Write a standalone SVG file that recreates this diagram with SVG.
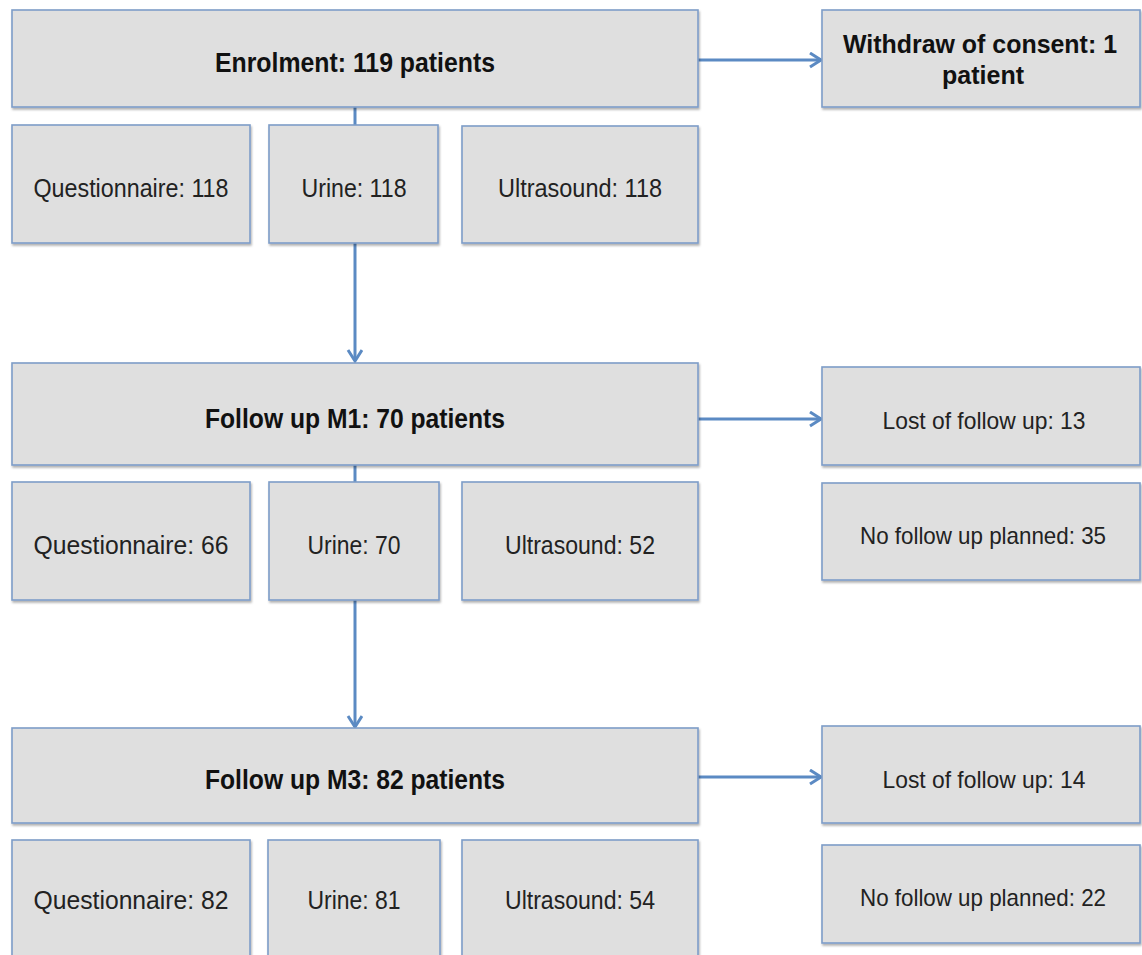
<svg xmlns="http://www.w3.org/2000/svg" width="1142" height="955" viewBox="0 0 1142 955">
<style>
.box{fill:#dfdfdf;stroke:#7d9dc8;stroke-width:1.6;filter:url(#sh)}
.b{font-family:"Liberation Sans",Arial,sans-serif;font-weight:bold;font-size:28px;fill:#111;text-anchor:middle}
.r{font-family:"Liberation Sans",Arial,sans-serif;font-size:26px;fill:#222;text-anchor:middle}
.rs{font-size:24px}
.bs{font-size:26px}
.c{stroke:#5b8ac3;stroke-width:3;fill:none}
</style>
<defs>
<filter id="sh" x="-5%" y="-5%" width="110%" height="120%">
<feDropShadow dx="1" dy="2" stdDeviation="1.2" flood-color="#000" flood-opacity="0.3"/>
</filter>
<marker id="ah" markerUnits="userSpaceOnUse" markerWidth="18" markerHeight="18" refX="12" refY="8" orient="auto">
<path d="M1,1 L12,8 L1,15" fill="none" stroke="#5b8ac3" stroke-width="3"/>
</marker>
</defs>
<g id="connectors">
<line class="c" x1="355" y1="107" x2="355" y2="125"/>
<line class="c" x1="355" y1="243" x2="355" y2="361" marker-end="url(#ah)"/>
<line class="c" x1="355" y1="465" x2="355" y2="482"/>
<line class="c" x1="355" y1="600" x2="355" y2="727" marker-end="url(#ah)"/>
<line class="c" x1="698" y1="60" x2="821" y2="60" marker-end="url(#ah)"/>
<line class="c" x1="698" y1="419" x2="821" y2="419" marker-end="url(#ah)"/>
<line class="c" x1="698" y1="777" x2="821" y2="777" marker-end="url(#ah)"/>
</g>
<g id="enrolment"><rect class="box" x="12" y="10" width="686" height="97"/><text class="b" x="355" y="72" textLength="280" lengthAdjust="spacingAndGlyphs">Enrolment: 119 patients</text></g>
<g id="withdraw"><rect class="box" x="822" y="10" width="318" height="97"/><text class="b bs" x="980" y="53" textLength="274" lengthAdjust="spacingAndGlyphs">Withdraw of consent: 1</text><text class="b bs" x="983" y="84" textLength="82" lengthAdjust="spacingAndGlyphs">patient</text></g>
<g id="q0"><rect class="box" x="12" y="125" width="238" height="118"/><text class="r" x="131" y="197" textLength="195" lengthAdjust="spacingAndGlyphs">Questionnaire: 118</text></g>
<g id="u0"><rect class="box" x="269" y="125" width="169" height="118"/><text class="r" x="354" y="197" textLength="105" lengthAdjust="spacingAndGlyphs">Urine: 118</text></g>
<g id="us0"><rect class="box" x="462" y="126" width="236" height="117"/><text class="r" x="580" y="197" textLength="164" lengthAdjust="spacingAndGlyphs">Ultrasound: 118</text></g>
<g id="m1"><rect class="box" x="12" y="363" width="686" height="102"/><text class="b" x="355" y="428" textLength="300" lengthAdjust="spacingAndGlyphs">Follow up M1: 70 patients</text></g>
<g id="lost1"><rect class="box" x="822" y="367" width="318" height="98"/><text class="r rs" x="984" y="429" textLength="203" lengthAdjust="spacingAndGlyphs">Lost of follow up: 13</text></g>
<g id="nofu1"><rect class="box" x="822" y="483" width="318" height="97"/><text class="r rs" x="983" y="544" textLength="246" lengthAdjust="spacingAndGlyphs">No follow up planned: 35</text></g>
<g id="q1"><rect class="box" x="12" y="482" width="238" height="118"/><text class="r" x="131" y="554" textLength="195" lengthAdjust="spacingAndGlyphs">Questionnaire: 66</text></g>
<g id="u1"><rect class="box" x="269" y="482" width="170" height="118"/><text class="r" x="354" y="554" textLength="93" lengthAdjust="spacingAndGlyphs">Urine: 70</text></g>
<g id="us1"><rect class="box" x="462" y="482" width="236" height="118"/><text class="r" x="580" y="554" textLength="150" lengthAdjust="spacingAndGlyphs">Ultrasound: 52</text></g>
<g id="m3"><rect class="box" x="12" y="728" width="686" height="95"/><text class="b" x="355" y="789" textLength="300" lengthAdjust="spacingAndGlyphs">Follow up M3: 82 patients</text></g>
<g id="lost3"><rect class="box" x="822" y="726" width="318" height="97"/><text class="r rs" x="984" y="788" textLength="203" lengthAdjust="spacingAndGlyphs">Lost of follow up: 14</text></g>
<g id="nofu3"><rect class="box" x="822" y="845" width="318" height="98"/><text class="r rs" x="983" y="906" textLength="246" lengthAdjust="spacingAndGlyphs">No follow up planned: 22</text></g>
<g id="q3"><rect class="box" x="12" y="840" width="238" height="130"/><text class="r" x="131" y="909" textLength="195" lengthAdjust="spacingAndGlyphs">Questionnaire: 82</text></g>
<g id="u3"><rect class="box" x="268" y="840" width="172" height="130"/><text class="r" x="354" y="909" textLength="93" lengthAdjust="spacingAndGlyphs">Urine: 81</text></g>
<g id="us3"><rect class="box" x="462" y="840" width="236" height="130"/><text class="r" x="580" y="909" textLength="150" lengthAdjust="spacingAndGlyphs">Ultrasound: 54</text></g>
</svg>
